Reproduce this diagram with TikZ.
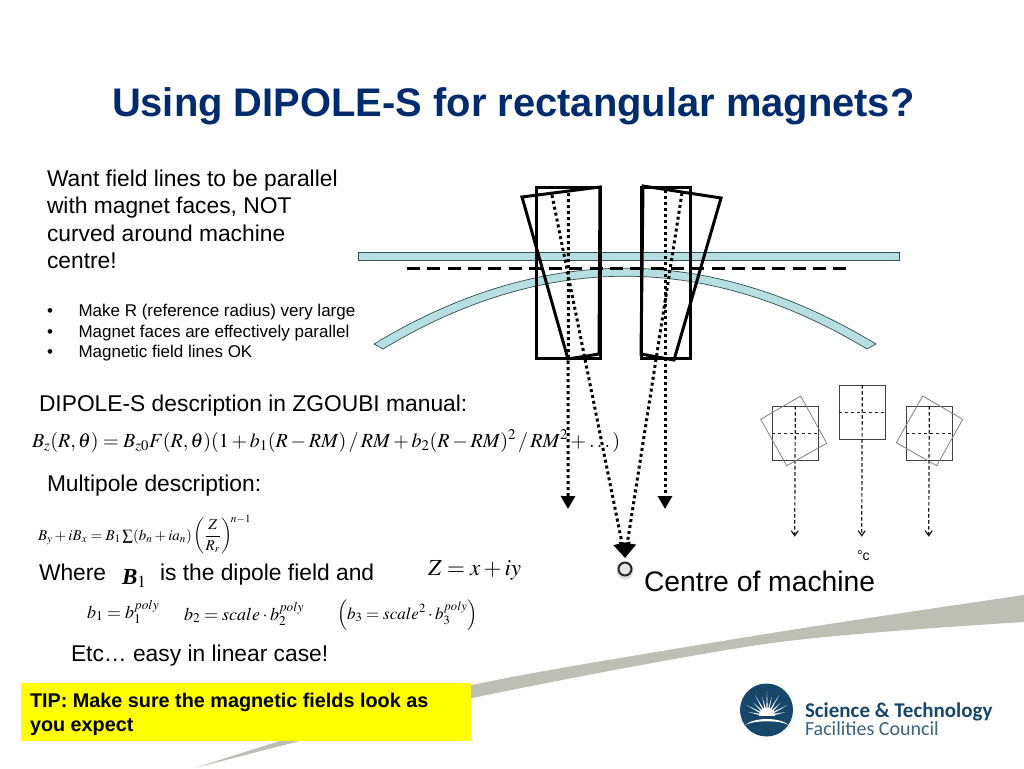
\documentclass[tikz,border=0pt]{standalone}
\usepackage{mathptmx}
\usepackage[no-math]{fontspec}
\usepackage{amsmath}
\setmainfont{Liberation Sans}
\newfontfamily\logofont{Carlito}
\newfontfamily\serifeq{Liberation Serif}
\usetikzlibrary{arrows.meta}
\definecolor{titlenavy}{HTML}{002B6C}
\definecolor{beamteal}{HTML}{B7DEE0}
\definecolor{beamedge}{HTML}{2F4F50}
\definecolor{swoosh}{HTML}{BDBFB4}
\definecolor{logoblue}{HTML}{17466B}
\definecolor{tipyellow}{HTML}{FFFF00}
\newcommand{\sz}[1]{\fontsize{#1}{1.2\dimexpr #1pt\relax}\selectfont}
\tikzset{
    txt/.style={anchor=base west, inner sep=0pt, outer sep=0pt},
    magnet/.style={line width=3pt, line join=miter},
    beam/.style={fill=beamteal, draw=beamedge, line width=0.7pt},
    fieldline/.style={line width=3pt, dash pattern=on 3pt off 3pt, -{Triangle[length=13pt,width=14pt]}},
    cell/.style={draw=black!75, line width=1.2pt},
    tilted/.style={draw=black!50, line width=0.8pt},
    crossline/.style={black!90, line width=1.2pt, dash pattern=on 3.5pt off 2.5pt},
}
\begin{document}
\begin{tikzpicture}[x=1pt, y=-1pt]

    \useasboundingbox (0,0) rectangle (1024,768);

    % Bandeau gris
    \fill[swoosh] plot[smooth, tension=0.5] coordinates {(195,768) (290,738) (472,685) (772,633) (1024,595)}
        -- plot[smooth, tension=0.5] coordinates {(1024,622) (772,643) (472,698) (300,741) (195,768)} -- cycle;

    % Titre
    \node[txt, text=titlenavy] (title) at (112,116) {\sz{39.9}\bfseries Using DIPOLE-S for rectangular magnets?};

    % Texte de gauche
    \node[txt, align=left, anchor=north west, font=\sz{22.8}] (intro) at (47,170) {Want field lines to be parallel\\with magnet faces, NOT\\curved around machine\\centre!};
    \foreach \y/\t/\n in {316/Make R (reference radius) very large/one, 337/Magnet faces are effectively parallel/two, 357/Magnetic field lines OK/three}{
        \node[txt] (dot\n) at (47,\y) {\sz{17}•};
        \node[txt] (item\n) at (78.5,\y) {\sz{17}\t};
    }
    \node[txt] (zgoubi) at (39,411) {\sz{22.8}DIPOLE-S description in ZGOUBI manual:};
    \node[txt] (eqdipole) at (32,447) {\sz{20}$B_z(R,\theta)=B_{z0}F(R,\theta)(1+b_1(R-RM)\,/\,RM+b_2(R-RM)^2\,/\,RM^2+\dots)$};
    \node[txt] (multi) at (47,491) {\sz{22.8}Multipole description:};
    \node[txt] (eqmulti) at (38,540) {\sz{15}$B_y+iB_x=B_1\sum(b_n+ia_n)\left(\dfrac{Z}{R_r}\right)^{\!n-1}$};
    \node[txt] (where) at (39,580) {\sz{22.8}Where};
    \node[txt] (bone) at (122,584) {\sz{23}{\serifeq\bfseries\itshape B}$_{1}$};
    \node[txt] (dipole) at (160,580) {\sz{22.8}is the dipole field and};
    \node[txt] (zdef) at (428,575) {\sz{23}$Z=x+iy$};
    \node[txt] (bpolyone) at (87,618) {\sz{18}$b_1=b_1^{poly}$};
    \node[txt] (bpolytwo) at (184,620) {\sz{18}$b_2=scale\cdot b_2^{poly}$};
    \node[txt] (bpolythree) at (337,619) {\sz{17}$\left(b_3=scale^2\cdot b_3^{poly}\right)$};
    \node[txt] (etc) at (71,661) {\sz{22.8}Etc… easy in linear case!};

    % Encadre jaune
    \node[fill=tipyellow, minimum width=450pt, minimum height=58pt, anchor=north west, inner sep=0pt] (tipbox) at (21,683) {};
    \node[txt, align=left, anchor=north west, font=\sz{19.8}\bfseries] (tip) at (30,693) {TIP: Make sure the magnetic fields look as\\you expect};

    % Faisceaux
    \draw[beam] (358,252) rectangle (899,260);
    \draw[beam] (374,344) .. controls (541,243) and (709,243) .. (876,344) -- (867,349)
        .. controls (706,252) and (544,252) .. (383,349) -- cycle;
    \draw[line width=3pt, dash pattern=on 13pt off 7.3pt] (407,268) -- (846.5,268);

    % Aimants droits et inclines
    \draw[magnet] (536,187) rectangle (600,358);
    \draw[magnet] (641,187) rectangle (690,358);
    \draw[magnet] (522,197) -- (600,187) -- (599,354) -- (568,359) -- cycle;
    \draw[magnet] (643,186) -- (721,198) -- (674,360) -- (641,354) -- cycle;

    % Lignes de champ
    \coordinate (centre) at (625,558);
    \coordinate (leftfoot) at (568,509);
    \coordinate (rightfoot) at (665,509);
    \draw[fieldline] (568.5,193) -- (leftfoot);
    \draw[fieldline] (665,190) -- (rightfoot);
    \draw[fieldline, -{Triangle[length=15pt,width=17pt]}] (552,195) -- (centre);
    \draw[fieldline, -{Triangle[length=15pt,width=17pt]}] (682,193) -- (centre);

    % Centre de la machine
    \fill[black!12] (625,571) circle (8.5);
    \node[circle, draw=black!85, fill=black!10, line width=2pt, minimum size=13pt, inner sep=0pt] (machine) at (625,569) {};
    \node[txt] (machinelabel) at (644,591) {\sz{28.3}Centre of machine};

    % Petit schema de droite
    \foreach \x/\y/\n in {771.7/406/a, 838.7/385/b, 905.7/406/c}{
        \node[cell, minimum width=46pt, minimum height=53.5pt, anchor=north west, inner sep=0pt] (cell\n) at (\x,\y) {};
        \coordinate (foot\n) at (\x+23,536.7);
        \draw[crossline, -{Straight Barb[length=5pt,width=7pt]}] (cell\n.north) -- (foot\n);
        \draw[crossline] (cell\n.west) -- (cell\n.east);
    }
    \draw[tilted] (760.7,419.3) -- (800.7,396) -- (826.7,443.3) -- (786.7,465.7) -- cycle;
    \draw[tilted] (922.7,396) -- (962.7,419.3) -- (936.7,465.7) -- (896.3,442.7) -- cycle;
    \node[txt] (smallc) at (857,560) {\sz{14}°c};

    % Logo
    \fill[logoblue] (766.5,710) circle (26.5);
    \begin{scope}[shift={(767,716)}]
        \foreach \a/\r in {12/19, 28/23, 44/19, 60/24, 76/20, 90/25, 104/20, 120/24, 136/19, 152/23, 168/19}{
            \fill[white] (-\a-5:8) -- (-\a:\r) -- (-\a+5:8) -- cycle;
        }
    \end{scope}
    \fill[white] (759,716) .. controls (759,705) and (775,705) .. (775,716) -- cycle;
    \fill[white] (745,725) .. controls (755,717) and (779,717) .. (789,725) .. controls (779,720) and (755,720) .. (745,725) -- cycle;
    \node[txt, text=logoblue] (science) at (805,717) {\sz{21}\logofont\bfseries Science \& Technology};
    \node[txt, text=logoblue!85] (council) at (805,735) {\sz{20}\logofont Facilities Council};

\end{tikzpicture}
\end{document}
